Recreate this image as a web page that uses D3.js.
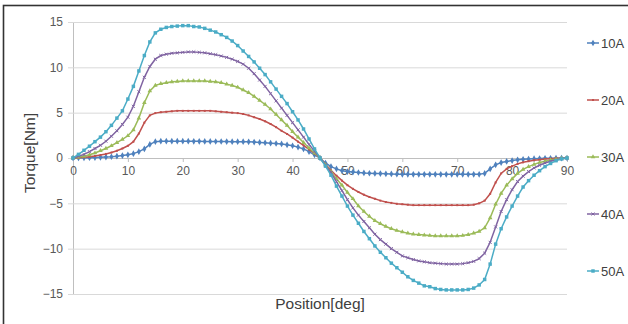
<!DOCTYPE html>
<html>
<head>
<meta charset="utf-8">
<script src="https://cdn.jsdelivr.net/npm/d3@7"></script>
<style>
  html, body { margin: 0; padding: 0; background: #fff; }
  svg { display: block; font-family: "Liberation Sans", Arial, sans-serif; }
</style>
</head>
<body>
<svg id="chart" width="628" height="324"></svg>
<script>
// rotor position, one sample per degree
const positions = d3.range(0, 91);

const seriesNames = ['10A', '20A', '30A', '40A', '50A'];
const seriesColors = ['#4f81bd', '#c0504d', '#9bbb59', '#8064a2', '#4bacc6'];

const torque10A = [
  0, 0.01, 0.02, 0.03, 0.05, 0.07, 0.1, 0.14, 0.2, 0.27, 0.35, 0.48, 0.7, 1.0, 1.5, 1.8,
  1.85, 1.85, 1.85, 1.85, 1.85, 1.85, 1.84, 1.84, 1.83, 1.83, 1.82, 1.82, 1.81, 1.8, 1.8,
  1.8, 1.78, 1.76, 1.72, 1.68, 1.64, 1.6, 1.55, 1.45, 1.35, 1.2, 1.0, 0.7, 0.35, 0,
  -0.55, -0.95, -1.2, -1.4, -1.5, -1.55, -1.6, -1.65, -1.68, -1.7, -1.72, -1.74, -1.76, -1.78, -1.8,
  -1.8, -1.8, -1.8, -1.8, -1.8, -1.8, -1.8, -1.8, -1.8, -1.8, -1.8, -1.8, -1.8, -1.8, -1.7,
  -1.2, -0.75, -0.5, -0.38, -0.28, -0.2, -0.15, -0.11, -0.08, -0.06, -0.04, -0.03, -0.02, -0.01, 0
];
const torque20A = [
  0, 0.03, 0.08, 0.14, 0.22, 0.32, 0.45, 0.6, 0.8, 1.05, 1.35, 1.8, 2.7, 3.9, 4.7, 4.95,
  5.05, 5.1, 5.15, 5.2, 5.2, 5.2, 5.2, 5.2, 5.2, 5.2, 5.15, 5.1, 5.05, 5.0, 4.95,
  4.85, 4.7, 4.5, 4.3, 4.05, 3.75, 3.4, 3.0, 2.65, 2.25, 1.8, 1.4, 0.95, 0.5, 0,
  -0.7, -1.35, -1.95, -2.5, -3.0, -3.4, -3.75, -4.05, -4.3, -4.5, -4.7, -4.85, -4.95, -5.05, -5.1,
  -5.15, -5.2, -5.2, -5.2, -5.2, -5.2, -5.2, -5.2, -5.2, -5.2, -5.2, -5.2, -5.15, -5.0, -4.7,
  -3.95, -2.7, -1.7, -1.2, -0.9, -0.65, -0.48, -0.35, -0.25, -0.18, -0.12, -0.07, -0.04, -0.02, 0
];
const torque30A = [
  0, 0.1, 0.2, 0.35, 0.55, 0.8, 1.05, 1.35, 1.7, 2.05, 2.45, 3.1, 4.4, 6.1, 7.4, 8.0,
  8.2, 8.3, 8.4, 8.45, 8.5, 8.5, 8.5, 8.5, 8.5, 8.45, 8.4, 8.3, 8.15, 8.0, 7.8,
  7.5, 7.2, 6.8, 6.35, 5.9, 5.4, 4.8, 4.2, 3.6, 2.9, 2.3, 1.7, 1.1, 0.55, 0,
  -0.75, -1.5, -2.3, -3.0, -3.8, -4.5, -5.3, -5.9, -6.45, -6.9, -7.25, -7.55, -7.8, -8.0, -8.15,
  -8.3, -8.4, -8.45, -8.5, -8.55, -8.6, -8.6, -8.6, -8.6, -8.6, -8.55, -8.45, -8.3, -8.1, -7.7,
  -6.6, -5.1, -3.9, -3.0, -2.3, -1.7, -1.25, -0.95, -0.7, -0.5, -0.35, -0.22, -0.12, -0.05, 0
];
const torque40A = [
  0, 0.2, 0.4, 0.7, 1.05, 1.4, 1.85, 2.4, 3.0, 3.7, 4.5, 5.7, 7.3, 8.9, 10.1, 10.9,
  11.3, 11.45, 11.55, 11.6, 11.65, 11.7, 11.7, 11.65, 11.6, 11.5, 11.4, 11.25, 11.1, 10.9, 10.65,
  10.35, 9.9, 9.3, 8.6, 7.9, 7.1, 6.3, 5.5, 4.7, 3.9, 3.1, 2.3, 1.5, 0.75, 0,
  -0.8, -1.6, -2.6, -3.6, -4.6, -5.5, -6.3, -7.0, -7.7, -8.4, -9.0, -9.5, -10.0, -10.4, -10.8,
  -11.0, -11.2, -11.35, -11.45, -11.55, -11.6, -11.65, -11.7, -11.7, -11.7, -11.65, -11.55, -11.4, -11.1, -10.5,
  -9.3, -7.6, -5.9, -4.6, -3.5, -2.6, -2.0, -1.5, -1.1, -0.8, -0.55, -0.35, -0.2, -0.08, 0
];
const torque50A = [
  0, 0.4, 0.85, 1.3, 1.8, 2.3, 2.9, 3.6, 4.4, 5.2, 6.5, 7.9, 9.6, 11.3, 12.8, 13.8,
  14.2, 14.4, 14.5, 14.55, 14.6, 14.6, 14.5, 14.45, 14.3, 14.1, 13.9, 13.6, 13.3, 12.9, 12.4,
  11.8, 11.2, 10.6, 9.9, 9.2, 8.4, 7.6, 6.8, 6.0, 5.1, 4.2, 3.2, 2.1, 1.0, 0,
  -0.9, -1.9, -3.1, -4.2, -5.3, -6.3, -7.2, -8.1, -8.9, -9.7, -10.4, -11.0, -11.6, -12.1, -12.6,
  -13.1, -13.5, -13.8, -14.1, -14.2, -14.4, -14.5, -14.55, -14.55, -14.55, -14.55, -14.5, -14.35, -14.0, -13.4,
  -11.7, -9.5, -7.8, -6.5, -5.3, -4.2, -3.2, -2.5, -1.9, -1.4, -0.95, -0.6, -0.3, -0.1, 0
];

const xTicks = [0, 10, 20, 30, 40, 50, 60, 70, 80, 90];
const yTicks = [-15, -10, -5, 0, 5, 10, 15];

const series = [torque10A, torque20A, torque30A, torque40A, torque50A].map((values, i) => ({
  name: seriesNames[i],
  color: seriesColors[i],
  values: values.map((v, j) => ({ x: positions[j], y: v }))
}));

// marker per series, roughly what Excel uses by default
const markerFor = [
  { type: d3.symbolDiamond, size: 13, stroke: false },
  { type: d3.symbolSquare, size: 4, stroke: false },
  { type: d3.symbolTriangle, size: 9, stroke: false },
  { type: d3.symbolTimes, size: 7, stroke: true },
  { type: d3.symbolSquare, size: 12, stroke: false }
];

const svg = d3.select('#chart');
const plot = { left: 73, right: 567, top: 22, bottom: 294 };

const x = d3.scaleLinear().domain([0, 90]).range([plot.left, plot.right]);
const y = d3.scaleLinear().domain([-15, 15]).range([plot.bottom, plot.top]);

// outer frame
svg.append('rect')
  .attr('x', 3.5).attr('y', 5.5)
  .attr('width', 640).attr('height', 340)
  .attr('fill', 'none')
  .attr('stroke', '#333')
  .attr('stroke-width', 1.6);

// horizontal gridlines + y labels
const yAxis = d3.axisLeft(y)
  .tickValues(yTicks)
  .tickSize(-(plot.right - plot.left))
  .tickPadding(10)
  .tickFormat(d3.format('d'));

const gy = svg.append('g')
  .attr('transform', `translate(${plot.left},0)`)
  .call(yAxis);
gy.select('.domain').attr('stroke', '#bfbfbf');
gy.selectAll('.tick line')
  .attr('stroke', '#d9d9d9')
  .attr('x1', -5);
gy.selectAll('.tick text')
  .attr('fill', '#595959')
  .style('font-size', '12px');

// category axis sits on y = 0
const xAxis = d3.axisBottom(x)
  .tickValues(xTicks)
  .tickSize(4)
  .tickPadding(4)
  .tickFormat(d3.format('d'));

const gx = svg.append('g')
  .attr('transform', `translate(0,${y(0)})`)
  .call(xAxis);
gx.select('.domain').attr('stroke', '#bfbfbf');
gx.selectAll('.tick line').attr('stroke', '#bfbfbf');
gx.selectAll('.tick text')
  .attr('fill', '#595959')
  .style('font-size', '12px');

// axis titles
svg.append('text')
  .attr('transform', `translate(35,153) rotate(-90)`)
  .attr('text-anchor', 'middle')
  .attr('fill', '#404040')
  .style('font-size', '15.5px')
  .text('Torque[Nm]');

svg.append('text')
  .attr('x', 320)
  .attr('y', 309)
  .attr('text-anchor', 'middle')
  .attr('fill', '#404040')
  .style('font-size', '15.5px')
  .text('Position[deg]');

// series lines + markers
const line = d3.line()
  .x(d => x(d.x))
  .y(d => y(d.y));

const seriesGroups = svg.selectAll('.series')
  .data(series)
  .enter()
  .append('g')
  .classed('series', true);

seriesGroups.append('path')
  .attr('d', d => line(d.values))
  .attr('fill', 'none')
  .attr('stroke', d => d.color)
  .attr('stroke-width', 1.5);

seriesGroups.each(function(s, i) {
  const m = markerFor[i];
  const sym = d3.symbol().type(m.type).size(m.size);
  d3.select(this).selectAll('.marker')
    .data(s.values)
    .enter()
    .append('path')
    .classed('marker', true)
    .attr('transform', d => `translate(${x(d.x)},${y(d.y)})`)
    .attr('d', sym)
    .attr('fill', m.stroke ? 'none' : s.color)
    .attr('stroke', m.stroke ? s.color : 'none')
    .attr('stroke-width', 1);
});

// legend
const legendY = d3.scalePoint().domain(seriesNames).range([43, 271]);

const legend = svg.selectAll('.legend-item')
  .data(series)
  .enter()
  .append('g')
  .classed('legend-item', true)
  .attr('transform', d => `translate(587,${legendY(d.name)})`);

legend.append('line')
  .attr('x1', 0).attr('x2', 12)
  .attr('stroke', d => d.color)
  .attr('stroke-width', 1.5);

legend.append('path')
  .attr('transform', 'translate(6,0)')
  .attr('d', (d, i) => d3.symbol().type(markerFor[i].type).size(markerFor[i].size)())
  .attr('fill', (d, i) => (markerFor[i].stroke ? 'none' : d.color))
  .attr('stroke', (d, i) => (markerFor[i].stroke ? d.color : 'none'));

legend.append('text')
  .attr('x', 14)
  .attr('dy', '0.35em')
  .attr('fill', '#404040')
  .style('font-size', '13px')
  .text(d => d.name);
</script>
</body>
</html>
